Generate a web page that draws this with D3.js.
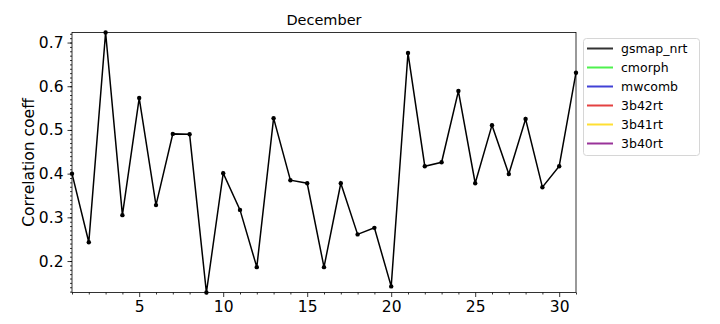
<!DOCTYPE html>
<html>
<head>
<meta charset="utf-8">
<script src="https://cdn.jsdelivr.net/npm/d3@7"></script>
<style>
  body { margin: 0; background: #fff; }
  text { font-family: "DejaVu Sans", sans-serif; }
</style>
</head>
<body>
<div id="chart"></div>
<script>
// daily correlation, December
const days = d3.range(1, 32);
const gsmapNrt = [0.400, 0.243, 0.723, 0.305, 0.573, 0.328, 0.491, 0.490, 0.128, 0.401,
  0.317, 0.186, 0.527, 0.385, 0.378, 0.186, 0.378, 0.261, 0.276, 0.142,
  0.676, 0.417, 0.426, 0.589, 0.378, 0.511, 0.399, 0.525, 0.369, 0.417, 0.631];

const legendNames = ["gsmap_nrt", "cmorph", "mwcomb", "3b42rt", "3b41rt", "3b40rt"];
const legendColors = ["#000000", "#22ee22", "#1111cc", "#dd1111", "#ffd700", "#800080"];

const width = 720, height = 324;
const margin = { left: 72, top: 32.5, right: 144, bottom: 31.5 };

const svg = d3.select("#chart").append("svg")
  .attr("width", width)
  .attr("height", height);

const x = d3.scaleLinear().domain([1, 31]).range([margin.left, width - margin.right]);
const y = d3.scaleLinear().domain(d3.extent(gsmapNrt)).range([height - margin.bottom, margin.top]);

// minor ticks
svg.append("g")
  .attr("transform", `translate(0,${height - margin.bottom})`)
  .call(d3.axisBottom(x).tickValues(days.filter(d => d % 5 !== 0)).tickSize(2).tickFormat(""))
  .call(g => g.select(".domain").remove());

svg.append("g")
  .attr("transform", `translate(${margin.left},0)`)
  .call(d3.axisLeft(y).tickValues(d3.range(13, 73).map(d => d / 100)).tickSize(2).tickFormat(""))
  .call(g => g.select(".domain").remove());

// major ticks
svg.append("g")
  .attr("transform", `translate(0,${height - margin.bottom})`)
  .call(d3.axisBottom(x).tickValues([5, 10, 15, 20, 25, 30]).tickSize(4.5).tickPadding(4).tickFormat(d3.format("d")))
  .call(g => g.select(".domain").remove())
  .call(g => g.selectAll("text").attr("font-size", 15.5).attr("fill", "#000"));

svg.append("g")
  .attr("transform", `translate(${margin.left},0)`)
  .call(d3.axisLeft(y).tickValues([0.2, 0.3, 0.4, 0.5, 0.6, 0.7]).tickSize(4.5).tickPadding(4).tickFormat(d3.format(".1f")))
  .call(g => g.select(".domain").remove())
  .call(g => g.selectAll("text").attr("font-size", 15.5).attr("fill", "#000"));

svg.selectAll(".tick line").attr("stroke", "#000").attr("stroke-width", 0.8);

// frame
svg.append("rect")
  .attr("x", margin.left)
  .attr("y", margin.top)
  .attr("width", width - margin.right - margin.left)
  .attr("height", height - margin.bottom - margin.top)
  .attr("fill", "none")
  .attr("stroke", "#000")
  .attr("stroke-width", 0.8);

// series
const line = d3.line()
  .x((d, i) => x(days[i]))
  .y(d => y(d));

svg.append("path")
  .datum(gsmapNrt)
  .attr("d", line)
  .attr("fill", "none")
  .attr("stroke", "#000")
  .attr("stroke-width", 1.5);

svg.append("g").selectAll("circle")
  .data(gsmapNrt)
  .enter().append("circle")
  .attr("cx", (d, i) => x(days[i]))
  .attr("cy", d => y(d))
  .attr("r", 2.2)
  .attr("fill", "#000");

// title and axis label
svg.append("text")
  .attr("x", (margin.left + width - margin.right) / 2)
  .attr("y", 25)
  .attr("text-anchor", "middle")
  .attr("font-size", 14.5)
  .text("December");

svg.append("text")
  .attr("transform", `translate(34,${(margin.top + height - margin.bottom) / 2}) rotate(-90)`)
  .attr("text-anchor", "middle")
  .attr("font-size", 15.5)
  .text("Correlation coeff");

// legend
const legend = svg.append("g").attr("transform", "translate(583,38)");

legend.append("rect")
  .attr("x", 0.5)
  .attr("y", 0.5)
  .attr("width", 116)
  .attr("height", 117)
  .attr("rx", 3)
  .attr("fill", "#fff")
  .attr("stroke", "#d6d6d6");

const items = legend.selectAll(".item")
  .data(legendNames)
  .enter().append("g")
  .attr("transform", (d, i) => `translate(0,${10.5 + i * 19})`);

items.append("line")
  .attr("x1", 4)
  .attr("x2", 30)
  .attr("stroke", (d, i) => legendColors[i])
  .attr("stroke-opacity", 0.8)
  .attr("stroke-width", 2);

items.append("text")
  .attr("x", 38)
  .attr("y", 4.5)
  .attr("font-size", 12.5)
  .text(d => d);
</script>
</body>
</html>
